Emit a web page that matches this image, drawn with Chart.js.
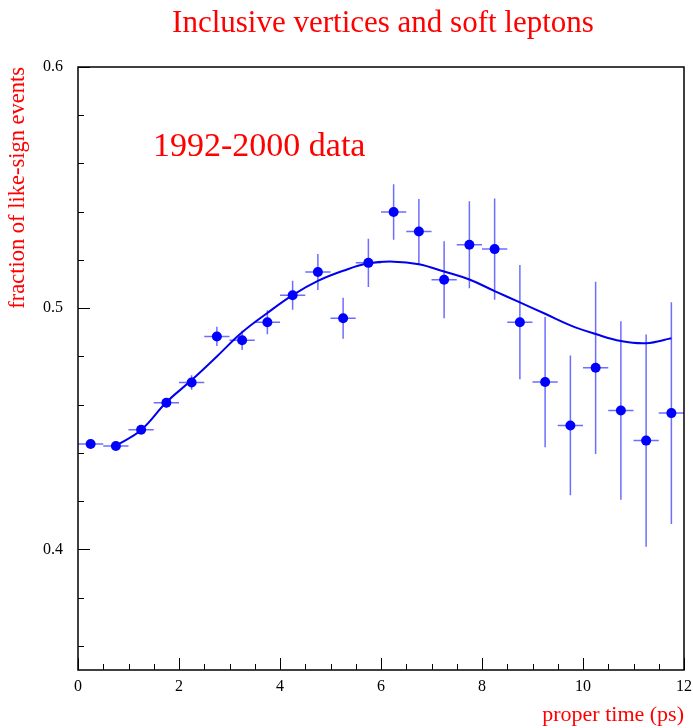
<!DOCTYPE html>
<html>
<head>
<meta charset="utf-8">
<script src="https://cdn.jsdelivr.net/npm/chart.js@4.4.1/dist/chart.umd.min.js"></script>
<style>
  html, body { margin: 0; padding: 0; background: #fff; }
  #wrap { width: 693px; height: 728px; }
</style>
</head>
<body>
<div id="wrap"><canvas id="chart" width="693" height="728"></canvas></div>
<script>
// measured points (bin centres, fraction, error)
const timeBins = [0.25, 0.75, 1.25, 1.75, 2.25, 2.75, 3.25, 3.75, 4.25, 4.75, 5.25, 5.75,
  6.25, 6.75, 7.25, 7.75, 8.25, 8.75, 9.25, 9.75, 10.25, 10.75, 11.25, 11.75];
const fraction = [0.4437, 0.4429, 0.4496, 0.4608, 0.4692, 0.4883, 0.4867, 0.4942, 0.5054, 0.5150, 0.4958, 0.5188,
  0.5399, 0.5318, 0.5118, 0.5263, 0.5245, 0.4942, 0.4694, 0.4514, 0.4753, 0.4576, 0.4451, 0.4565];
const fractionErr = [0.0013, 0.0013, 0.0015, 0.002, 0.003, 0.004, 0.004, 0.005, 0.006, 0.0075, 0.0085, 0.010,
  0.0115, 0.0135, 0.016, 0.018, 0.021, 0.0237, 0.027, 0.029, 0.0357, 0.037, 0.044, 0.046];
const binHalfWidth = 0.25;

// fitted curve
const fitTime = [0.75, 1.25, 1.75, 2.25, 2.75, 3.25, 3.75, 4.25, 4.75, 5.25, 5.75, 6.25,
  6.75, 7.25, 7.75, 8.25, 8.75, 9.25, 9.75, 10.25, 10.75, 11.25, 11.75];
const fitFraction = [0.443, 0.4495, 0.461, 0.4702, 0.480, 0.490, 0.498, 0.5054, 0.5113, 0.5155, 0.5186, 0.5193,
  0.5182, 0.5152, 0.5119, 0.5071, 0.5024, 0.4977, 0.4929, 0.4893, 0.4864, 0.4855, 0.4875];

// axis ticks
const yTickLabels = [0.4, 0.5, 0.6];
const xTickLabels = [0, 2, 4, 6, 8, 10, 12];

const serif = '"Liberation Serif", "DejaVu Serif", serif';
const markBlue = '#0000ff';
const barBlue = 'rgba(60, 60, 255, 0.75)';

// error bars, frame, inside ticks and the texts
const decorations = {
  id: 'decorations',
  beforeDatasetsDraw(chart) {
    const { ctx, scales: { x, y } } = chart;
    ctx.save();
    ctx.strokeStyle = barBlue;
    ctx.lineWidth = 1.5;
    timeBins.forEach((t, i) => {
      const px = x.getPixelForValue(t);
      const py = y.getPixelForValue(fraction[i]);
      ctx.beginPath();
      ctx.moveTo(x.getPixelForValue(t - binHalfWidth), py);
      ctx.lineTo(x.getPixelForValue(t + binHalfWidth), py);
      ctx.moveTo(px, y.getPixelForValue(fraction[i] - fractionErr[i]));
      ctx.lineTo(px, y.getPixelForValue(fraction[i] + fractionErr[i]));
      ctx.stroke();
    });
    ctx.restore();
  },
  afterDraw(chart) {
    const { ctx, chartArea: a, scales: { x, y } } = chart;
    ctx.save();
    ctx.strokeStyle = '#000';
    ctx.lineWidth = 1.5;
    ctx.strokeRect(a.left, a.top, a.right - a.left, a.bottom - a.top);

    ctx.lineWidth = 1;
    ctx.beginPath();
    // y ticks every 0.02, major every 0.1
    for (let k = 18; k <= 30; k++) {
      const v = k / 50;
      const py = Math.round(y.getPixelForValue(v)) + 0.5;
      const len = k % 5 === 0 ? 12 : 6;
      ctx.moveTo(a.left, py);
      ctx.lineTo(a.left + len, py);
    }
    // x ticks every 0.5, major every 2
    for (let k = 0; k <= 24; k++) {
      const px = Math.round(x.getPixelForValue(k / 2)) + 0.5;
      const len = k % 4 === 0 ? 12 : 6;
      ctx.moveTo(px, a.bottom);
      ctx.lineTo(px, a.bottom - len);
    }
    ctx.stroke();

    ctx.fillStyle = '#ff0000';
    ctx.textAlign = 'center';
    ctx.textBaseline = 'alphabetic';
    ctx.font = '31px ' + serif;
    ctx.fillText('Inclusive vertices and soft leptons', (a.left + a.right) / 2 + 2, 32);
    ctx.textAlign = 'left';
    ctx.font = '34px ' + serif;
    ctx.fillText('1992-2000 data', 153, 156);
    ctx.restore();
  }
};

new Chart(document.getElementById('chart'), {
  type: 'scatter',
  data: {
    datasets: [
      {
        label: 'data',
        data: timeBins.map((t, i) => ({ x: t, y: fraction[i] })),
        pointRadius: 5,
        pointBackgroundColor: markBlue,
        pointBorderColor: markBlue,
        pointBorderWidth: 0,
        showLine: false
      },
      {
        label: 'fit',
        data: fitTime.map((t, i) => ({ x: t, y: fitFraction[i] })),
        showLine: true,
        borderColor: '#0000ee',
        borderWidth: 2,
        pointRadius: 0,
        tension: 0.4,
        fill: false
      }
    ]
  },
  options: {
    responsive: false,
    animation: false,
    devicePixelRatio: 1,
    layout: { padding: { top: 67, right: 9, left: 0, bottom: 0 } },
    plugins: {
      legend: { display: false },
      tooltip: { enabled: false }
    },
    scales: {
      x: {
        type: 'linear',
        min: 0,
        max: 12,
        grid: { display: false, drawTicks: false },
        border: { display: false },
        afterBuildTicks(scale) { scale.ticks = xTickLabels.map(v => ({ value: v })); },
        afterFit(scale) {
          scale.height = 58;
          scale.paddingLeft = 0;
          scale.paddingRight = 0;
        },
        ticks: {
          padding: 7,
          color: '#000',
          font: { family: serif, size: 16 },
          maxRotation: 0
        },
        title: {
          display: true,
          text: 'proper time (ps)',
          align: 'end',
          color: '#ff0000',
          font: { family: serif, size: 22 },
          padding: { top: 0, bottom: 0 }
        }
      },
      y: {
        type: 'linear',
        min: 0.35,
        max: 0.6,
        grid: { display: false, drawTicks: false },
        border: { display: false },
        afterBuildTicks(scale) { scale.ticks = yTickLabels.map(v => ({ value: v })); },
        afterFit(scale) {
          scale.width = 78;
          scale.paddingTop = 0;
          scale.paddingBottom = 0;
        },
        ticks: {
          padding: 15,
          color: '#000',
          font: { family: serif, size: 16 },
          callback: v => v.toFixed(1)
        },
        title: {
          display: true,
          text: 'fraction of like-sign events',
          align: 'end',
          color: '#ff0000',
          font: { family: serif, size: 22.5 },
          padding: { top: 5, bottom: 0 }
        }
      }
    }
  },
  plugins: [decorations]
});
</script>
</body>
</html>
